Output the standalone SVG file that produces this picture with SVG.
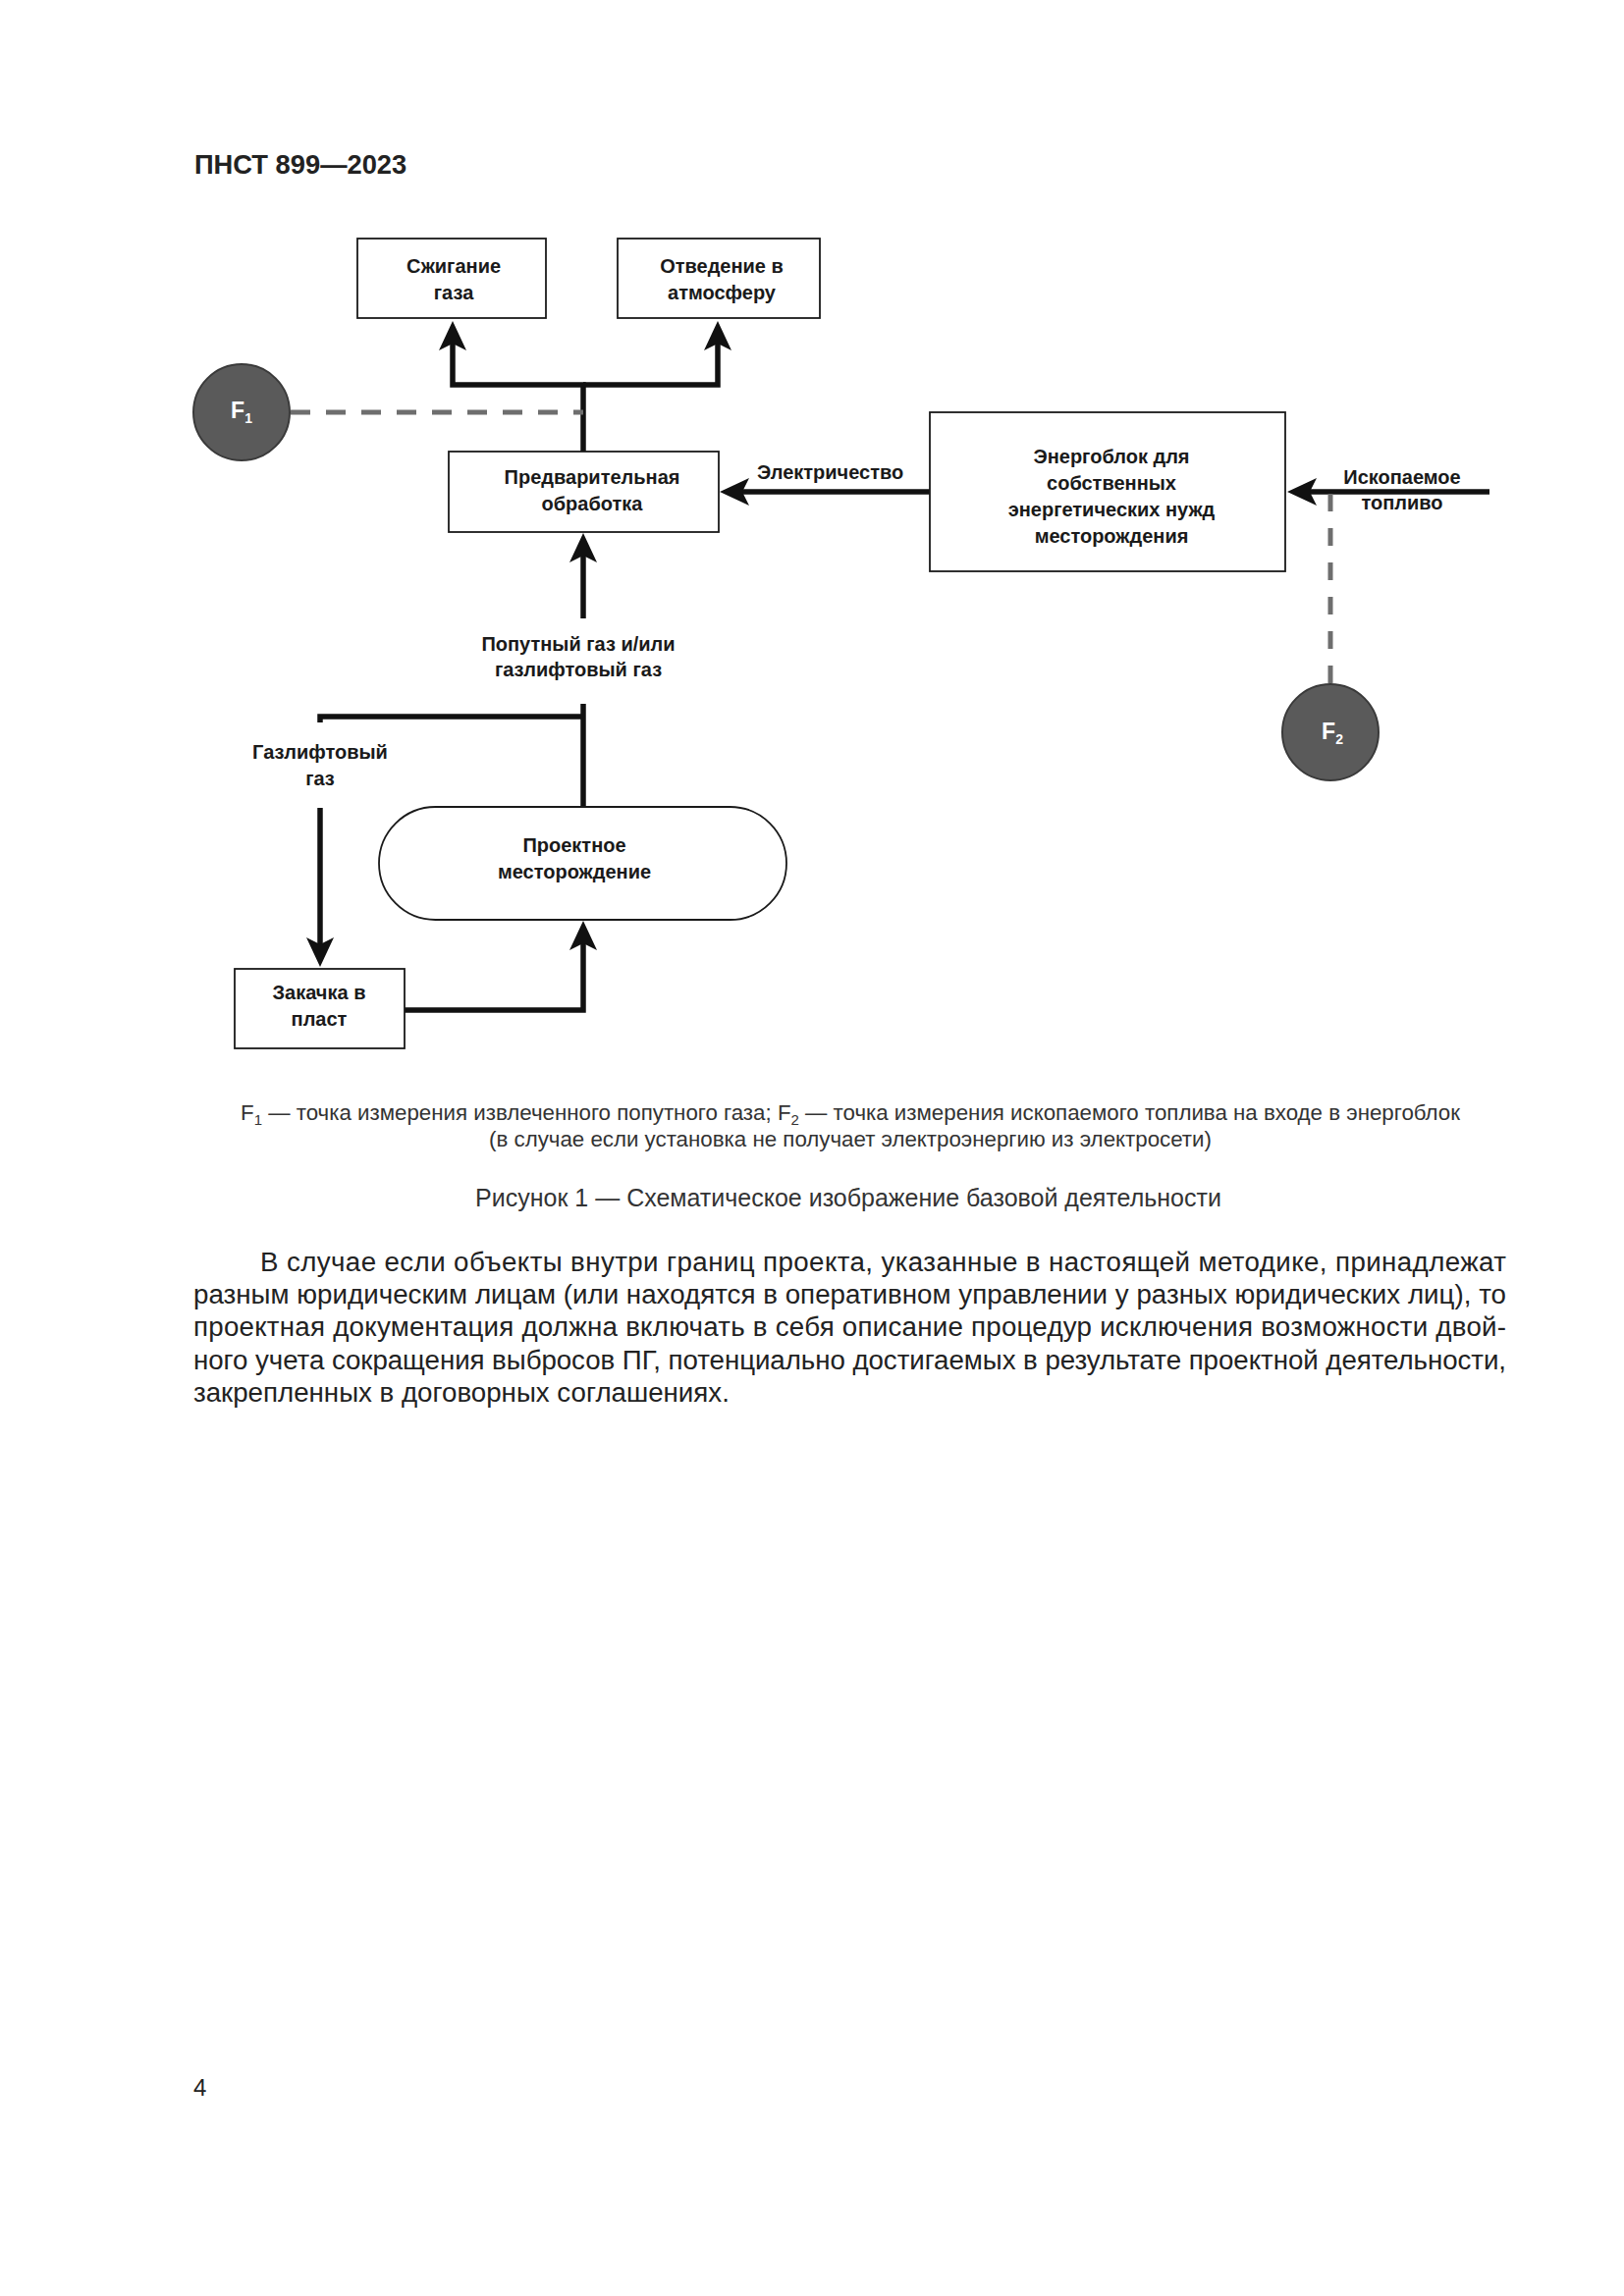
<svg xmlns="http://www.w3.org/2000/svg" width="1654" height="2339" viewBox="0 0 1654 2339">
<style>
.lbl{font-family:"Liberation Sans",Arial,sans-serif;font-weight:bold;font-size:20px;fill:#1a1a1a;text-anchor:middle}
.lbl-s{font-family:"Liberation Sans",Arial,sans-serif;font-weight:bold;font-size:20px;fill:#1a1a1a}
.box{fill:#fff;stroke:#1a1a1a;stroke-width:1.8}
.flow{fill:none;stroke:#111;stroke-width:5.5;stroke-linejoin:miter}
.dash{fill:none;stroke:#6e6e6e;stroke-width:5}
.meter{fill:#5a5a5a;stroke:#3a3a3a;stroke-width:2}
.mtxt{font-family:"Liberation Sans",Arial,sans-serif;font-weight:bold;font-size:23px;fill:#fff;text-anchor:middle}
.body{font-family:"Liberation Sans",Arial,sans-serif;font-size:27.7px;fill:#222}
.cap{font-family:"Liberation Sans",Arial,sans-serif;font-size:22.3px;fill:#333;text-anchor:middle}
.fig{font-family:"Liberation Sans",Arial,sans-serif;font-size:25px;fill:#333;text-anchor:middle}
</style>
<defs>
<marker id="ah" viewBox="0 0 30 30" refX="7" refY="15" markerWidth="30" markerHeight="30" markerUnits="userSpaceOnUse" orient="auto">
<path d="M30,15 L0,1 L7,15 L0,29 Z" fill="#111"/>
</marker>
</defs>
<rect width="1654" height="2339" fill="#fff"/>
<text x="198" y="177" font-family="Liberation Sans, Arial, sans-serif" font-weight="bold" font-size="27.3" fill="#222">ПНСТ 899—2023</text>

<g id="connectors">
<path class="flow" d="M594,460 V392 H461 V350" marker-end="url(#ah)"/>
<path class="flow" d="M594,392 H731 V350" marker-end="url(#ah)"/>
<path class="flow" d="M947,501 H756" marker-end="url(#ah)"/>
<path class="flow" d="M1517,501 H1334" marker-end="url(#ah)"/>
<path class="flow" d="M594,630 V566" marker-end="url(#ah)"/>
<path class="flow" d="M594,717 V822"/>
<path class="flow" d="M326,736 V730 H594"/>
<path class="flow" d="M326,823 V962" marker-end="url(#ah)"/>
<path class="flow" d="M412,1029 H594 V961" marker-end="url(#ah)"/>
<path class="dash" d="M296,420 H594" stroke-dasharray="20 16"/>
<path class="dash" d="M1355,503 V697" stroke-width="4.5" stroke-dasharray="18 17"/>
<text class="lbl-s" x="771" y="488">Электричество</text>
<text class="lbl" x="1428" y="493">Ископаемое</text>
<text class="lbl" x="1428" y="519">топливо</text>
<text class="lbl" x="589" y="663">Попутный газ и/или</text>
<text class="lbl" x="589" y="689">газлифтовый газ</text>
<text class="lbl" x="326" y="773">Газлифтовый</text>
<text class="lbl" x="326" y="800">газ</text>
</g>

<g id="node-flaring">
<rect class="box" x="364" y="243" width="192" height="81"/>
<text class="lbl" x="462" y="278">Сжигание</text>
<text class="lbl" x="462" y="305">газа</text>
</g>
<g id="node-venting">
<rect class="box" x="629" y="243" width="206" height="81"/>
<text class="lbl" x="735" y="278">Отведение в</text>
<text class="lbl" x="735" y="305">атмосферу</text>
</g>
<g id="node-pretreatment">
<rect class="box" x="457" y="460" width="275" height="82"/>
<text class="lbl" x="603" y="493">Предварительная</text>
<text class="lbl" x="603" y="520">обработка</text>
</g>
<g id="node-powerunit">
<rect class="box" x="947" y="420" width="362" height="162"/>
<text class="lbl" x="1132" y="472">Энергоблок для</text>
<text class="lbl" x="1132" y="499">собственных</text>
<text class="lbl" x="1132" y="526">энергетических нужд</text>
<text class="lbl" x="1132" y="553">месторождения</text>
</g>
<g id="node-field">
<rect class="box" x="386" y="822" width="415" height="115" rx="57.5" ry="57.5"/>
<text class="lbl" x="585" y="868">Проектное</text>
<text class="lbl" x="585" y="895">месторождение</text>
</g>
<g id="node-injection">
<rect class="box" x="239" y="987" width="173" height="81"/>
<text class="lbl" x="325" y="1018">Закачка в</text>
<text class="lbl" x="325" y="1045">пласт</text>
</g>
<g id="node-F1">
<circle class="meter" cx="246" cy="420" r="49"/>
<text class="mtxt" x="246" y="426">F<tspan font-size="14" dy="5">1</tspan></text>
</g>
<g id="node-F2">
<circle class="meter" cx="1355" cy="746" r="49"/>
<text class="mtxt" x="1357" y="753">F<tspan font-size="14" dy="5">2</tspan></text>
</g>

<text class="cap" x="866" y="1141">F<tspan font-size="15" dy="5">1</tspan><tspan dy="-5"> — точка измерения извлеченного попутного газа; F</tspan><tspan font-size="15" dy="5">2</tspan><tspan dy="-5"> — точка измерения ископаемого топлива на входе в энергоблок</tspan></text>
<text class="cap" x="866" y="1168">(в случае если установка не получает электроэнергию из электросети)</text>
<text class="fig" x="864" y="1229">Рисунок 1 — Схематическое изображение базовой деятельности</text>

<text class="body" x="265" y="1295" textLength="1269" lengthAdjust="spacing">В случае если объекты внутри границ проекта, указанные в настоящей методике, принадлежат</text>
<text class="body" x="197" y="1328" textLength="1337" lengthAdjust="spacing">разным юридическим лицам (или находятся в оперативном управлении у разных юридических лиц), то</text>
<text class="body" x="197" y="1361" textLength="1337" lengthAdjust="spacing">проектная документация должна включать в себя описание процедур исключения возможности двой-</text>
<text class="body" x="197" y="1395" textLength="1337" lengthAdjust="spacing">ного учета сокращения выбросов ПГ, потенциально достигаемых в результате проектной деятельности,</text>
<text class="body" x="197" y="1428">закрепленных в договорных соглашениях.</text>

<text x="197" y="2135" font-family="Liberation Sans, Arial, sans-serif" font-size="24" fill="#222">4</text>
</svg>
